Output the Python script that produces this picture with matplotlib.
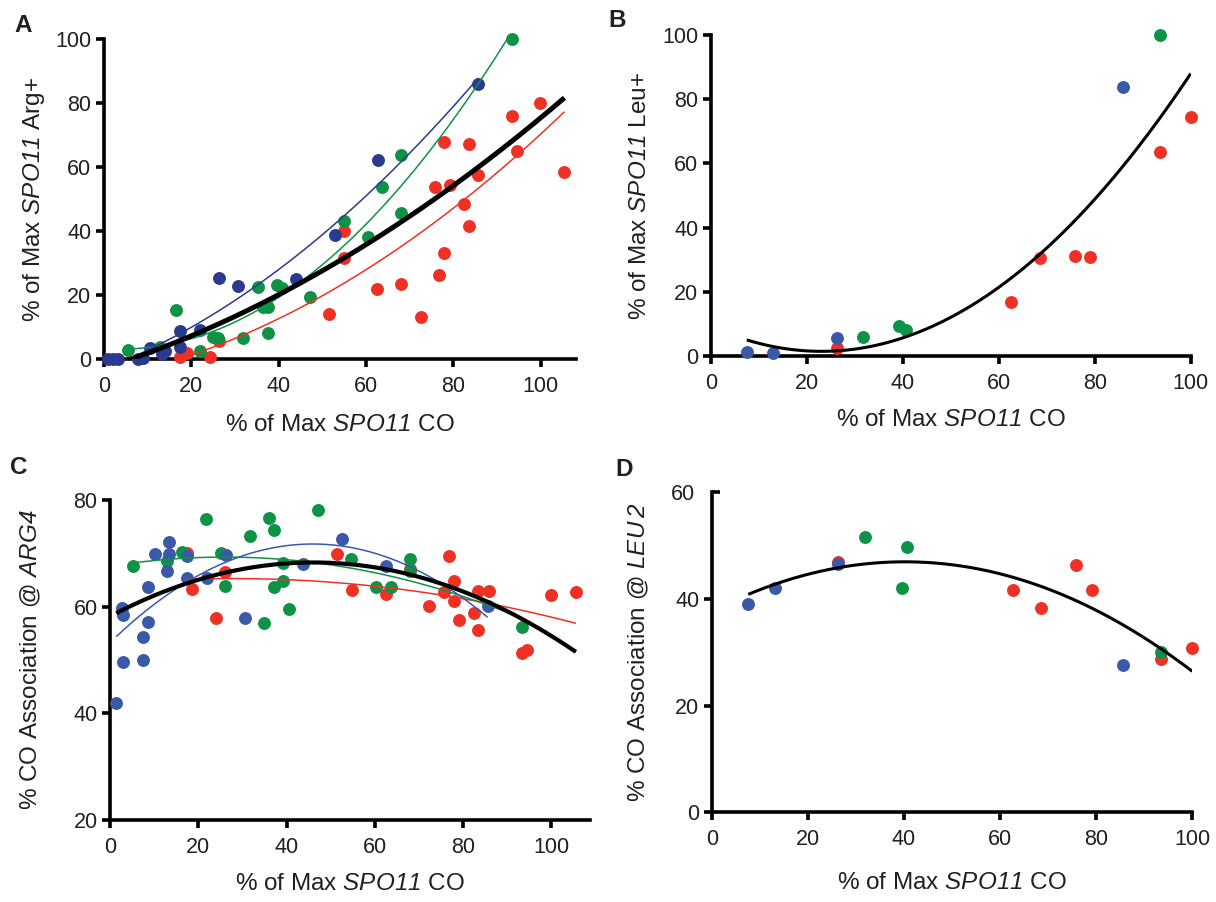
import matplotlib
matplotlib.use('Agg')
import matplotlib.pyplot as plt
import numpy as np

plt.rcParams['font.family'] = 'Liberation Sans'
plt.rcParams['mathtext.fontset'] = 'custom'
# gene names are set in italic, digits included
plt.rcParams['mathtext.rm'] = 'Liberation Sans:italic'
plt.rcParams['mathtext.it'] = 'Liberation Sans:italic'

# Panel A - Arg+ vs CO
A_blue_x = [1.0, 2.1, 3.3, 7.8, 9, 10.5, 13.2, 13.9, 17.5, 17.5, 21.9, 26.4, 30.7, 44, 52.8, 62.7, 85.7]
A_blue_y = [0, 0, 0, 0, 0.5, 3.4, 1.5, 2.5, 8.8, 3.9, 9.2, 25.5, 22.9, 25.1, 38.8, 62.1, 86.0]
A_green_x = [5.6, 12.8, 16.5, 21.9, 25, 26.1, 31.8, 35.3, 36.4, 37.6, 37.6, 39.7, 40.8, 47.2, 54.9, 60.4, 63.7, 68, 68, 93.3]
A_green_y = [2.9, 3.9, 15.4, 2.6, 7.1, 6.6, 6.6, 22.7, 16.4, 16.4, 8.3, 23.2, 22.4, 19.4, 43.3, 38.1, 53.8, 63.8, 45.6, 100]
A_red_x = [17.4, 18.9, 24.2, 26.4, 51.5, 54.9, 54.9, 62.5, 68, 72.5, 76.8, 77.9, 77.9, 75.8, 79.1, 82.4, 83.5, 83.5, 85.7, 93.3, 94.5, 99.9, 105.4]
A_red_y = [0.6, 1.9, 0.6, 5.8, 14.2, 40.2, 31.6, 22.0, 23.5, 13.1, 26.3, 33.3, 67.7, 53.7, 54.3, 48.5, 41.7, 67.3, 57.6, 76.0, 65.1, 80, 58.5]

# Panel B - Leu+ vs CO
B_blue_x = [7.5, 12.9, 26.2, 85.8]
B_blue_y = [1.3, 1.0, 5.7, 83.9]
B_green_x = [31.7, 39.3, 40.7, 93.5]
B_green_y = [6.0, 9.3, 8.1, 100]
B_red_x = [26.2, 62.5, 68.5, 75.9, 79, 93.5, 100]
B_red_y = [2.6, 16.9, 30.4, 31.2, 30.8, 63.5, 74.4]

# Panel C - CO association at ARG4
C_blue_x = [1.4, 2.6, 3.0, 3.0, 7.4, 7.4, 8.7, 8.7, 10.2, 12.9, 13.4, 13.4, 17.4, 17.4, 21.9, 26.3, 30.6, 43.8, 52.6, 62.6, 85.6]
C_blue_y = [41.9, 59.7, 58.4, 49.7, 54.4, 50.0, 63.6, 57.2, 69.9, 66.7, 72.2, 69.9, 69.5, 65.4, 65.3, 69.7, 57.8, 68.0, 72.6, 67.6, 60.1]
C_green_x = [5.1, 12.8, 16.2, 21.8, 25.2, 26.1, 31.7, 35.0, 36.1, 37.2, 37.2, 39.3, 39.3, 40.6, 47.2, 54.6, 60.3, 63.6, 68.0, 68.0, 93.3]
C_green_y = [67.6, 68.6, 70.2, 76.4, 70.1, 63.9, 73.3, 57.0, 76.7, 74.4, 63.7, 68.1, 64.9, 59.5, 78.2, 68.9, 63.6, 63.6, 69.0, 66.7, 56.2]
C_red_x = [17.4, 18.5, 24.0, 26.1, 51.5, 54.8, 62.5, 68.0, 72.4, 75.7, 76.9, 78.0, 78.0, 79.1, 82.4, 83.5, 83.5, 85.8, 93.3, 94.5, 100, 105.6]
C_red_y = [70.1, 63.4, 57.9, 66.5, 69.9, 63.2, 62.3, 67.0, 60.1, 62.8, 69.5, 64.8, 61.1, 57.5, 58.9, 62.9, 55.7, 63.0, 51.4, 51.9, 62.2, 62.8]

# Panel D - CO association at LEU2
D_blue_x = [7.6, 13.2, 26.3, 85.6]
D_blue_y = [39.0, 42.0, 46.6, 27.6]
D_green_x = [31.9, 39.6, 40.7, 93.5]
D_green_y = [51.7, 42.0, 49.7, 30.0]
D_red_x = [26.3, 62.6, 68.6, 75.9, 79.2, 93.5, 100]
D_red_y = [47.0, 41.7, 38.4, 46.3, 41.6, 28.7, 30.8]

RED = '#EE3124'
GREEN = '#0E9346'
NAVY = '#2B3990'
BLUE = '#3A59A8'
TXT = '#231F20'
XLAB = r'% of Max $\mathrm{SPO11}$ CO'


def fit_line(ax, x, y, color, lw):
	# quadratic fit drawn over the range of the data
	c = np.polyfit(x, y, 2)
	xs = np.linspace(min(x), max(x), 200)
	ax.plot(xs, np.polyval(c, xs), color=color, lw=lw, zorder=4, solid_capstyle='butt')


def dots(ax, x, y, color):
	ax.plot(x, y, 'o', ms=9.3, color=color, mec='none', clip_on=False, zorder=3)


def style(ax, ylabel, xlim, ylim, yticks, ylpad, xlpad):
	for s in ['top', 'right']:
		ax.spines[s].set_visible(False)
	for s in ['left', 'bottom']:
		ax.spines[s].set_linewidth(2.6)
		ax.spines[s].set_color('black')
	ax.set_xlim(xlim)
	ax.set_ylim(ylim)
	ax.set_xticks([0, 20, 40, 60, 80, 100])
	ax.set_yticks(yticks)
	ax.tick_params(direction='out', length=6, width=2.6, labelsize=15.5, labelcolor=TXT)
	ax.tick_params(axis='x', pad=6)
	ax.tick_params(axis='y', pad=3)
	ax.set_xlabel(XLAB, fontsize=17.5, color=TXT, labelpad=xlpad)
	ax.set_ylabel(ylabel, fontsize=17.5, color=TXT, labelpad=ylpad)


fig = plt.figure(figsize=(12.16, 9.02), dpi=100)

# A
ax = fig.add_axes([0.0855, 0.6017, 0.388, 0.355])
dots(ax, A_red_x, A_red_y, RED)
dots(ax, A_green_x, A_green_y, GREEN)
dots(ax, A_blue_x, A_blue_y, NAVY)
fit_line(ax, A_red_x, A_red_y, RED, 1.1)
fit_line(ax, A_green_x, A_green_y, GREEN, 1.1)
fit_line(ax, A_blue_x, A_blue_y, NAVY, 1.1)
fit_line(ax, A_red_x + A_green_x + A_blue_x, A_red_y + A_green_y + A_blue_y, 'black', 3.6)
style(ax, r'% of Max $\mathrm{SPO11}$ Arg+', (0, 108), (0, 100), [0, 20, 40, 60, 80, 100], 6, 12)
fig.text(0.012, 0.965, 'A', fontsize=17.5, fontweight='bold', color=TXT)

# B
ax = fig.add_axes([0.5845, 0.6053, 0.3947, 0.3559])
dots(ax, B_red_x, B_red_y, RED)
dots(ax, B_green_x, B_green_y, GREEN)
dots(ax, B_blue_x, B_blue_y, BLUE)
fit_line(ax, B_red_x + B_green_x + B_blue_x, B_red_y + B_green_y + B_blue_y, 'black', 2.2)
style(ax, r'% of Max $\mathrm{SPO11}$ Leu+', (0, 100), (0, 100), [0, 20, 40, 60, 80, 100], 8, 11)
fig.text(0.5, 0.97, 'B', fontsize=17.5, fontweight='bold', color=TXT)

# C
ax = fig.add_axes([0.0905, 0.0909, 0.3947, 0.3548])
dots(ax, C_red_x, C_red_y, RED)
dots(ax, C_green_x, C_green_y, GREEN)
dots(ax, C_blue_x, C_blue_y, BLUE)
fit_line(ax, C_red_x, C_red_y, RED, 1.1)
fit_line(ax, C_green_x, C_green_y, GREEN, 1.1)
fit_line(ax, C_blue_x, C_blue_y, BLUE, 1.1)
fit_line(ax, C_red_x + C_green_x + C_blue_x, C_red_y + C_green_y + C_blue_y, 'black', 3.0)
style(ax, r'% CO Association @ $\mathrm{ARG4}$', (0, 108.8), (20, 80), [20, 40, 60, 80], 22, 11)
fig.text(0.008, 0.475, 'C', fontsize=17.5, fontweight='bold', color=TXT)

# D
ax = fig.add_axes([0.5853, 0.0994, 0.3952, 0.3548])
dots(ax, D_red_x, D_red_y, RED)
dots(ax, D_green_x, D_green_y, GREEN)
dots(ax, D_blue_x, D_blue_y, BLUE)
fit_line(ax, D_red_x + D_green_x + D_blue_x, D_red_y + D_green_y + D_blue_y, 'black', 2.2)
style(ax, r'% CO Association @ $\mathrm{LEU\,2}$', (0, 100), (0, 60), [0, 20, 40], 14, 16)
# the 60 tick points inward in the original
ax.set_yticks([60], minor=True)
ax.set_yticklabels(['60'], minor=True)
ax.tick_params(axis='y', which='minor', direction='in', length=6, width=2.6, labelsize=15.5, labelcolor=TXT, pad=12)
fig.text(0.506, 0.472, 'D', fontsize=17.5, fontweight='bold', color=TXT)

plt.savefig('out.png', dpi=100)
